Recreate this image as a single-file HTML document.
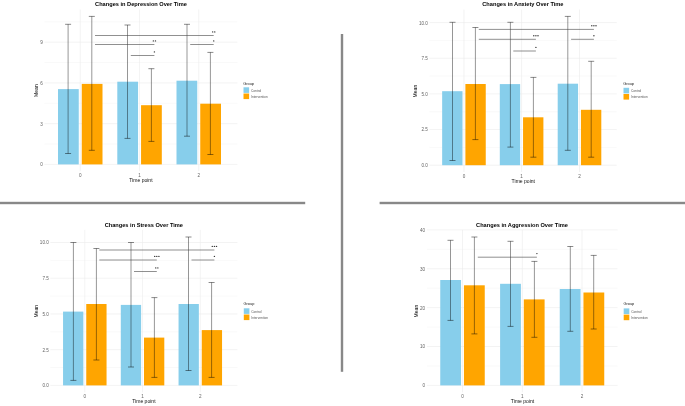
<!DOCTYPE html>
<html><head><meta charset="utf-8"><style>
html,body{margin:0;padding:0;background:#fff;width:685px;height:406px;overflow:hidden}
div.w{will-change:transform;width:685px;height:406px}
svg{display:block;font-family:"Liberation Sans", sans-serif}
</style></head><body><div class="w">
<svg width="685" height="406" viewBox="0 0 685 406">
<rect width="685" height="406" fill="#fff"/>
<line x1="44.5" x2="237.4" y1="144.03" y2="144.03" stroke="#F3F3F3" stroke-width="0.5"/>
<line x1="44.5" x2="237.4" y1="103.29" y2="103.29" stroke="#F3F3F3" stroke-width="0.5"/>
<line x1="44.5" x2="237.4" y1="62.55" y2="62.55" stroke="#F3F3F3" stroke-width="0.5"/>
<line x1="44.5" x2="237.4" y1="21.81" y2="21.81" stroke="#F3F3F3" stroke-width="0.5"/>
<line x1="44.5" x2="237.4" y1="164.4" y2="164.4" stroke="#EBEBEB" stroke-width="0.6"/>
<line x1="44.5" x2="237.4" y1="123.66" y2="123.66" stroke="#EBEBEB" stroke-width="0.6"/>
<line x1="44.5" x2="237.4" y1="82.92" y2="82.92" stroke="#EBEBEB" stroke-width="0.6"/>
<line x1="44.5" x2="237.4" y1="42.18" y2="42.18" stroke="#EBEBEB" stroke-width="0.6"/>
<line x1="80.25" x2="80.25" y1="9.5" y2="171.2" stroke="#EBEBEB" stroke-width="0.6"/>
<line x1="139.55" x2="139.55" y1="9.5" y2="171.2" stroke="#EBEBEB" stroke-width="0.6"/>
<line x1="198.75" x2="198.75" y1="9.5" y2="171.2" stroke="#EBEBEB" stroke-width="0.6"/>
<rect x="58" y="89.1" width="20.75" height="75.3" fill="#87CEEB"/>
<rect x="81.75" y="83.9" width="20.75" height="80.5" fill="#FFA500"/>
<rect x="117.3" y="81.7" width="20.75" height="82.7" fill="#87CEEB"/>
<rect x="141.05" y="105.2" width="20.75" height="59.2" fill="#FFA500"/>
<rect x="176.5" y="80.7" width="20.75" height="83.7" fill="#87CEEB"/>
<rect x="200.25" y="103.7" width="20.75" height="60.7" fill="#FFA500"/>
<path d="M68.1 24.3V153.5" stroke="#000" stroke-opacity="0.69" stroke-width="0.6" fill="none"/>
<path d="M65.1 24.3H71.1M65.1 153.5H71.1" stroke="#000" stroke-opacity="0.77" stroke-width="0.6" fill="none"/>
<path d="M91.8 16.4V150.3" stroke="#000" stroke-opacity="0.69" stroke-width="0.6" fill="none"/>
<path d="M88.8 16.4H94.8M88.8 150.3H94.8" stroke="#000" stroke-opacity="0.77" stroke-width="0.6" fill="none"/>
<path d="M127.5 25V138.4" stroke="#000" stroke-opacity="0.69" stroke-width="0.6" fill="none"/>
<path d="M124.5 25H130.5M124.5 138.4H130.5" stroke="#000" stroke-opacity="0.77" stroke-width="0.6" fill="none"/>
<path d="M151.4 68.7V141.4" stroke="#000" stroke-opacity="0.69" stroke-width="0.6" fill="none"/>
<path d="M148.4 68.7H154.4M148.4 141.4H154.4" stroke="#000" stroke-opacity="0.77" stroke-width="0.6" fill="none"/>
<path d="M187 24.3V136.2" stroke="#000" stroke-opacity="0.69" stroke-width="0.6" fill="none"/>
<path d="M184 24.3H190M184 136.2H190" stroke="#000" stroke-opacity="0.77" stroke-width="0.6" fill="none"/>
<path d="M210.4 52.4V154.5" stroke="#000" stroke-opacity="0.69" stroke-width="0.6" fill="none"/>
<path d="M207.4 52.4H213.4M207.4 154.5H213.4" stroke="#000" stroke-opacity="0.77" stroke-width="0.6" fill="none"/>
<line x1="95" x2="213.7" y1="35.5" y2="35.5" stroke="#444444" stroke-width="0.6"/>
<circle cx="212.65" cy="31.9" r="0.72" fill="#383838"/>
<circle cx="214.75" cy="31.9" r="0.72" fill="#383838"/>
<line x1="95" x2="154.4" y1="44.5" y2="44.5" stroke="#444444" stroke-width="0.6"/>
<circle cx="153.35" cy="40.9" r="0.72" fill="#383838"/>
<circle cx="155.45" cy="40.9" r="0.72" fill="#383838"/>
<line x1="130.8" x2="154.4" y1="55.5" y2="55.5" stroke="#444444" stroke-width="0.6"/>
<circle cx="154.4" cy="51.9" r="0.72" fill="#383838"/>
<line x1="190.2" x2="213.7" y1="44.5" y2="44.5" stroke="#444444" stroke-width="0.6"/>
<circle cx="213.7" cy="40.9" r="0.72" fill="#383838"/>
<rect x="243.5" y="87.3" width="5.6" height="5.6" fill="#87CEEB"/>
<rect x="243.5" y="93.5" width="5.6" height="5.6" fill="#FFA500"/>
<line x1="429.4" x2="616.7" y1="147.38" y2="147.38" stroke="#F3F3F3" stroke-width="0.5"/>
<line x1="429.4" x2="616.7" y1="111.72" y2="111.72" stroke="#F3F3F3" stroke-width="0.5"/>
<line x1="429.4" x2="616.7" y1="76.07" y2="76.07" stroke="#F3F3F3" stroke-width="0.5"/>
<line x1="429.4" x2="616.7" y1="40.42" y2="40.42" stroke="#F3F3F3" stroke-width="0.5"/>
<line x1="429.4" x2="616.7" y1="165.2" y2="165.2" stroke="#EBEBEB" stroke-width="0.6"/>
<line x1="429.4" x2="616.7" y1="129.55" y2="129.55" stroke="#EBEBEB" stroke-width="0.6"/>
<line x1="429.4" x2="616.7" y1="93.9" y2="93.9" stroke="#EBEBEB" stroke-width="0.6"/>
<line x1="429.4" x2="616.7" y1="58.25" y2="58.25" stroke="#EBEBEB" stroke-width="0.6"/>
<line x1="429.4" x2="616.7" y1="22.6" y2="22.6" stroke="#EBEBEB" stroke-width="0.6"/>
<line x1="463.95" x2="463.95" y1="9.5" y2="172" stroke="#EBEBEB" stroke-width="0.6"/>
<line x1="521.6" x2="521.6" y1="9.5" y2="172" stroke="#EBEBEB" stroke-width="0.6"/>
<line x1="579.5" x2="579.5" y1="9.5" y2="172" stroke="#EBEBEB" stroke-width="0.6"/>
<rect x="442.15" y="91.2" width="20.35" height="74" fill="#87CEEB"/>
<rect x="465.4" y="84" width="20.35" height="81.2" fill="#FFA500"/>
<rect x="499.8" y="84.1" width="20.35" height="81.1" fill="#87CEEB"/>
<rect x="523.05" y="117.3" width="20.35" height="47.9" fill="#FFA500"/>
<rect x="557.7" y="83.7" width="20.35" height="81.5" fill="#87CEEB"/>
<rect x="580.95" y="109.8" width="20.35" height="55.4" fill="#FFA500"/>
<path d="M452.5 22.3V160.5" stroke="#000" stroke-opacity="0.69" stroke-width="0.6" fill="none"/>
<path d="M449.5 22.3H455.5M449.5 160.5H455.5" stroke="#000" stroke-opacity="0.77" stroke-width="0.6" fill="none"/>
<path d="M475.4 27.5V139.6" stroke="#000" stroke-opacity="0.69" stroke-width="0.6" fill="none"/>
<path d="M472.4 27.5H478.4M472.4 139.6H478.4" stroke="#000" stroke-opacity="0.77" stroke-width="0.6" fill="none"/>
<path d="M510.4 22.3V147.1" stroke="#000" stroke-opacity="0.69" stroke-width="0.6" fill="none"/>
<path d="M507.4 22.3H513.4M507.4 147.1H513.4" stroke="#000" stroke-opacity="0.77" stroke-width="0.6" fill="none"/>
<path d="M533.4 77.4V157.2" stroke="#000" stroke-opacity="0.69" stroke-width="0.6" fill="none"/>
<path d="M530.4 77.4H536.4M530.4 157.2H536.4" stroke="#000" stroke-opacity="0.77" stroke-width="0.6" fill="none"/>
<path d="M567.8 16.4V150.3" stroke="#000" stroke-opacity="0.69" stroke-width="0.6" fill="none"/>
<path d="M564.8 16.4H570.8M564.8 150.3H570.8" stroke="#000" stroke-opacity="0.77" stroke-width="0.6" fill="none"/>
<path d="M591.2 61.3V157.2" stroke="#000" stroke-opacity="0.69" stroke-width="0.6" fill="none"/>
<path d="M588.2 61.3H594.2M588.2 157.2H594.2" stroke="#000" stroke-opacity="0.77" stroke-width="0.6" fill="none"/>
<line x1="478.8" x2="593.9" y1="29.4" y2="29.4" stroke="#444444" stroke-width="0.6"/>
<circle cx="591.8" cy="25.8" r="0.72" fill="#383838"/>
<circle cx="593.9" cy="25.8" r="0.72" fill="#383838"/>
<circle cx="596" cy="25.8" r="0.72" fill="#383838"/>
<line x1="478.8" x2="535.9" y1="39.3" y2="39.3" stroke="#444444" stroke-width="0.6"/>
<circle cx="533.8" cy="35.7" r="0.72" fill="#383838"/>
<circle cx="535.9" cy="35.7" r="0.72" fill="#383838"/>
<circle cx="538" cy="35.7" r="0.72" fill="#383838"/>
<line x1="513.3" x2="535.9" y1="51" y2="51" stroke="#444444" stroke-width="0.6"/>
<circle cx="535.9" cy="47.4" r="0.72" fill="#383838"/>
<line x1="571.1" x2="593.9" y1="39.3" y2="39.3" stroke="#444444" stroke-width="0.6"/>
<circle cx="593.9" cy="35.7" r="0.72" fill="#383838"/>
<rect x="623.5" y="87.8" width="5.6" height="5.6" fill="#87CEEB"/>
<rect x="623.5" y="94" width="5.6" height="5.6" fill="#FFA500"/>
<line x1="50.3" x2="237.4" y1="367.54" y2="367.54" stroke="#F3F3F3" stroke-width="0.5"/>
<line x1="50.3" x2="237.4" y1="331.81" y2="331.81" stroke="#F3F3F3" stroke-width="0.5"/>
<line x1="50.3" x2="237.4" y1="296.09" y2="296.09" stroke="#F3F3F3" stroke-width="0.5"/>
<line x1="50.3" x2="237.4" y1="260.36" y2="260.36" stroke="#F3F3F3" stroke-width="0.5"/>
<line x1="50.3" x2="237.4" y1="385.4" y2="385.4" stroke="#EBEBEB" stroke-width="0.6"/>
<line x1="50.3" x2="237.4" y1="349.67" y2="349.67" stroke="#EBEBEB" stroke-width="0.6"/>
<line x1="50.3" x2="237.4" y1="313.95" y2="313.95" stroke="#EBEBEB" stroke-width="0.6"/>
<line x1="50.3" x2="237.4" y1="278.22" y2="278.22" stroke="#EBEBEB" stroke-width="0.6"/>
<line x1="50.3" x2="237.4" y1="242.5" y2="242.5" stroke="#EBEBEB" stroke-width="0.6"/>
<line x1="84.8" x2="84.8" y1="229.9" y2="392.4" stroke="#EBEBEB" stroke-width="0.6"/>
<line x1="142.55" x2="142.55" y1="229.9" y2="392.4" stroke="#EBEBEB" stroke-width="0.6"/>
<line x1="200.3" x2="200.3" y1="229.9" y2="392.4" stroke="#EBEBEB" stroke-width="0.6"/>
<rect x="63.05" y="311.6" width="20.3" height="73.8" fill="#87CEEB"/>
<rect x="86.25" y="304" width="20.3" height="81.4" fill="#FFA500"/>
<rect x="120.8" y="304.9" width="20.3" height="80.5" fill="#87CEEB"/>
<rect x="144" y="337.6" width="20.3" height="47.8" fill="#FFA500"/>
<rect x="178.55" y="304" width="20.3" height="81.4" fill="#87CEEB"/>
<rect x="201.75" y="330.1" width="20.3" height="55.3" fill="#FFA500"/>
<path d="M73.4 242.5V380.4" stroke="#000" stroke-opacity="0.69" stroke-width="0.6" fill="none"/>
<path d="M70.4 242.5H76.4M70.4 380.4H76.4" stroke="#000" stroke-opacity="0.77" stroke-width="0.6" fill="none"/>
<path d="M96.4 248.5V360" stroke="#000" stroke-opacity="0.69" stroke-width="0.6" fill="none"/>
<path d="M93.4 248.5H99.4M93.4 360H99.4" stroke="#000" stroke-opacity="0.77" stroke-width="0.6" fill="none"/>
<path d="M131 242.5V367" stroke="#000" stroke-opacity="0.69" stroke-width="0.6" fill="none"/>
<path d="M128 242.5H134M128 367H134" stroke="#000" stroke-opacity="0.77" stroke-width="0.6" fill="none"/>
<path d="M154.4 297.6V377.4" stroke="#000" stroke-opacity="0.69" stroke-width="0.6" fill="none"/>
<path d="M151.4 297.6H157.4M151.4 377.4H157.4" stroke="#000" stroke-opacity="0.77" stroke-width="0.6" fill="none"/>
<path d="M188.5 237V370.5" stroke="#000" stroke-opacity="0.69" stroke-width="0.6" fill="none"/>
<path d="M185.5 237H191.5M185.5 370.5H191.5" stroke="#000" stroke-opacity="0.77" stroke-width="0.6" fill="none"/>
<path d="M211.6 282.5V377.4" stroke="#000" stroke-opacity="0.69" stroke-width="0.6" fill="none"/>
<path d="M208.6 282.5H214.6M208.6 377.4H214.6" stroke="#000" stroke-opacity="0.77" stroke-width="0.6" fill="none"/>
<line x1="99.3" x2="214.4" y1="250" y2="250" stroke="#444444" stroke-width="0.6"/>
<circle cx="212.3" cy="246.4" r="0.72" fill="#383838"/>
<circle cx="214.4" cy="246.4" r="0.72" fill="#383838"/>
<circle cx="216.5" cy="246.4" r="0.72" fill="#383838"/>
<line x1="99.3" x2="156.8" y1="260" y2="260" stroke="#444444" stroke-width="0.6"/>
<circle cx="154.7" cy="256.4" r="0.72" fill="#383838"/>
<circle cx="156.8" cy="256.4" r="0.72" fill="#383838"/>
<circle cx="158.9" cy="256.4" r="0.72" fill="#383838"/>
<line x1="134" x2="156.8" y1="271.5" y2="271.5" stroke="#444444" stroke-width="0.6"/>
<circle cx="155.75" cy="267.9" r="0.72" fill="#383838"/>
<circle cx="157.85" cy="267.9" r="0.72" fill="#383838"/>
<line x1="191.5" x2="214.4" y1="260" y2="260" stroke="#444444" stroke-width="0.6"/>
<circle cx="214.4" cy="256.4" r="0.72" fill="#383838"/>
<rect x="243.8" y="308.3" width="5.6" height="5.6" fill="#87CEEB"/>
<rect x="243.8" y="314.5" width="5.6" height="5.6" fill="#FFA500"/>
<line x1="426.9" x2="617.5" y1="365.96" y2="365.96" stroke="#F3F3F3" stroke-width="0.5"/>
<line x1="426.9" x2="617.5" y1="327.09" y2="327.09" stroke="#F3F3F3" stroke-width="0.5"/>
<line x1="426.9" x2="617.5" y1="288.21" y2="288.21" stroke="#F3F3F3" stroke-width="0.5"/>
<line x1="426.9" x2="617.5" y1="249.34" y2="249.34" stroke="#F3F3F3" stroke-width="0.5"/>
<line x1="426.9" x2="617.5" y1="385.4" y2="385.4" stroke="#EBEBEB" stroke-width="0.6"/>
<line x1="426.9" x2="617.5" y1="346.52" y2="346.52" stroke="#EBEBEB" stroke-width="0.6"/>
<line x1="426.9" x2="617.5" y1="307.65" y2="307.65" stroke="#EBEBEB" stroke-width="0.6"/>
<line x1="426.9" x2="617.5" y1="268.77" y2="268.77" stroke="#EBEBEB" stroke-width="0.6"/>
<line x1="426.9" x2="617.5" y1="229.9" y2="229.9" stroke="#EBEBEB" stroke-width="0.6"/>
<line x1="462.5" x2="462.5" y1="229.9" y2="392.4" stroke="#EBEBEB" stroke-width="0.6"/>
<line x1="522.35" x2="522.35" y1="229.9" y2="392.4" stroke="#EBEBEB" stroke-width="0.6"/>
<line x1="582" x2="582" y1="229.9" y2="392.4" stroke="#EBEBEB" stroke-width="0.6"/>
<rect x="440.25" y="280" width="20.8" height="105.4" fill="#87CEEB"/>
<rect x="463.95" y="285.3" width="20.8" height="100.1" fill="#FFA500"/>
<rect x="500.1" y="283.8" width="20.8" height="101.6" fill="#87CEEB"/>
<rect x="523.8" y="299.4" width="20.8" height="86" fill="#FFA500"/>
<rect x="559.75" y="289" width="20.8" height="96.4" fill="#87CEEB"/>
<rect x="583.45" y="292.5" width="20.8" height="92.9" fill="#FFA500"/>
<path d="M450.5 240.3V320.4" stroke="#000" stroke-opacity="0.69" stroke-width="0.6" fill="none"/>
<path d="M447.5 240.3H453.5M447.5 320.4H453.5" stroke="#000" stroke-opacity="0.77" stroke-width="0.6" fill="none"/>
<path d="M474.4 237V333.9" stroke="#000" stroke-opacity="0.69" stroke-width="0.6" fill="none"/>
<path d="M471.4 237H477.4M471.4 333.9H477.4" stroke="#000" stroke-opacity="0.77" stroke-width="0.6" fill="none"/>
<path d="M510.5 241.3V326.4" stroke="#000" stroke-opacity="0.69" stroke-width="0.6" fill="none"/>
<path d="M507.5 241.3H513.5M507.5 326.4H513.5" stroke="#000" stroke-opacity="0.77" stroke-width="0.6" fill="none"/>
<path d="M534.4 261.4V337.3" stroke="#000" stroke-opacity="0.69" stroke-width="0.6" fill="none"/>
<path d="M531.4 261.4H537.4M531.4 337.3H537.4" stroke="#000" stroke-opacity="0.77" stroke-width="0.6" fill="none"/>
<path d="M570.3 246.5V331.3" stroke="#000" stroke-opacity="0.69" stroke-width="0.6" fill="none"/>
<path d="M567.3 246.5H573.3M567.3 331.3H573.3" stroke="#000" stroke-opacity="0.77" stroke-width="0.6" fill="none"/>
<path d="M593.7 255.4V329" stroke="#000" stroke-opacity="0.69" stroke-width="0.6" fill="none"/>
<path d="M590.7 255.4H596.7M590.7 329H596.7" stroke="#000" stroke-opacity="0.77" stroke-width="0.6" fill="none"/>
<line x1="477.8" x2="536.9" y1="257.2" y2="257.2" stroke="#444444" stroke-width="0.6"/>
<circle cx="536.9" cy="253.6" r="0.72" fill="#383838"/>
<rect x="623.7" y="308.4" width="5.6" height="5.6" fill="#87CEEB"/>
<rect x="623.7" y="314.6" width="5.6" height="5.6" fill="#FFA500"/>
<rect x="0" y="201.8" width="305.2" height="2.4" fill="#888"/>
<rect x="379.6" y="201.8" width="305.4" height="2.4" fill="#888"/>
<rect x="340.8" y="34" width="2.4" height="337.8" fill="#888"/>
<g>
<text x="42.8" y="166.3" font-size="4.6" text-anchor="end" fill="#636363">0</text>
<text x="42.8" y="125.56" font-size="4.6" text-anchor="end" fill="#636363">3</text>
<text x="42.8" y="84.82" font-size="4.6" text-anchor="end" fill="#636363">6</text>
<text x="42.8" y="44.08" font-size="4.6" text-anchor="end" fill="#636363">9</text>
<text x="80.25" y="177.1" font-size="4.6" text-anchor="middle" fill="#636363">0</text>
<text x="139.55" y="177.1" font-size="4.6" text-anchor="middle" fill="#636363">1</text>
<text x="198.75" y="177.1" font-size="4.6" text-anchor="middle" fill="#636363">2</text>
<text x="140.9" y="182.47" font-size="5.05" text-anchor="middle" fill="#111">Time point</text>
<text transform="translate(38.17 90.6) rotate(-90)" font-size="5.05" text-anchor="middle" fill="#000">Mean</text>
<text x="95.1" y="6.03" font-size="5.65" font-weight="bold" fill="#000">Changes in Depression Over Time</text>
<text x="243.2" y="84.7" font-size="3.9" fill="#1a1a1a">Group</text>
<text x="251" y="91.9" font-size="3.2" fill="#555">Control</text>
<text x="251" y="97.9" font-size="3.2" fill="#555">Intervention</text>
<text x="427.9" y="167.1" font-size="4.6" text-anchor="end" fill="#636363">0.0</text>
<text x="427.9" y="131.45" font-size="4.6" text-anchor="end" fill="#636363">2.5</text>
<text x="427.9" y="95.8" font-size="4.6" text-anchor="end" fill="#636363">5.0</text>
<text x="427.9" y="60.15" font-size="4.6" text-anchor="end" fill="#636363">7.5</text>
<text x="427.9" y="24.5" font-size="4.6" text-anchor="end" fill="#636363">10.0</text>
<text x="463.95" y="178" font-size="4.6" text-anchor="middle" fill="#636363">0</text>
<text x="521.6" y="178" font-size="4.6" text-anchor="middle" fill="#636363">1</text>
<text x="579.5" y="178" font-size="4.6" text-anchor="middle" fill="#636363">2</text>
<text x="523.3" y="183.27" font-size="5.05" text-anchor="middle" fill="#111">Time point</text>
<text transform="translate(416.77 91.1) rotate(-90)" font-size="5.05" text-anchor="middle" fill="#000">Mean</text>
<text x="482.3" y="6.03" font-size="5.65" font-weight="bold" fill="#000">Changes in Anxiety Over Time</text>
<text x="623.2" y="84.9" font-size="3.9" fill="#1a1a1a">Group</text>
<text x="631" y="92.4" font-size="3.2" fill="#555">Control</text>
<text x="631" y="98.4" font-size="3.2" fill="#555">Intervention</text>
<text x="48.8" y="387.3" font-size="4.6" text-anchor="end" fill="#636363">0.0</text>
<text x="48.8" y="351.57" font-size="4.6" text-anchor="end" fill="#636363">2.5</text>
<text x="48.8" y="315.85" font-size="4.6" text-anchor="end" fill="#636363">5.0</text>
<text x="48.8" y="280.12" font-size="4.6" text-anchor="end" fill="#636363">7.5</text>
<text x="48.8" y="244.4" font-size="4.6" text-anchor="end" fill="#636363">10.0</text>
<text x="84.8" y="397.8" font-size="4.6" text-anchor="middle" fill="#636363">0</text>
<text x="142.55" y="397.8" font-size="4.6" text-anchor="middle" fill="#636363">1</text>
<text x="200.3" y="397.8" font-size="4.6" text-anchor="middle" fill="#636363">2</text>
<text x="143.85" y="402.77" font-size="5.05" text-anchor="middle" fill="#111">Time point</text>
<text transform="translate(38.17 311.2) rotate(-90)" font-size="5.05" text-anchor="middle" fill="#000">Mean</text>
<text x="104.7" y="226.63" font-size="5.65" font-weight="bold" fill="#000">Changes in Stress Over Time</text>
<text x="243.5" y="305.3" font-size="3.9" fill="#1a1a1a">Group</text>
<text x="251.3" y="312.9" font-size="3.2" fill="#555">Control</text>
<text x="251.3" y="318.9" font-size="3.2" fill="#555">Intervention</text>
<text x="425.1" y="387.3" font-size="4.6" text-anchor="end" fill="#636363">0</text>
<text x="425.1" y="348.42" font-size="4.6" text-anchor="end" fill="#636363">10</text>
<text x="425.1" y="309.55" font-size="4.6" text-anchor="end" fill="#636363">20</text>
<text x="425.1" y="270.67" font-size="4.6" text-anchor="end" fill="#636363">30</text>
<text x="425.1" y="231.8" font-size="4.6" text-anchor="end" fill="#636363">40</text>
<text x="462.5" y="398" font-size="4.6" text-anchor="middle" fill="#636363">0</text>
<text x="522.35" y="398" font-size="4.6" text-anchor="middle" fill="#636363">1</text>
<text x="582" y="398" font-size="4.6" text-anchor="middle" fill="#636363">2</text>
<text x="522.55" y="402.97" font-size="5.05" text-anchor="middle" fill="#111">Time point</text>
<text transform="translate(418.47 311.1) rotate(-90)" font-size="5.05" text-anchor="middle" fill="#000">Mean</text>
<text x="476.1" y="226.63" font-size="5.65" font-weight="bold" fill="#000">Changes in Aggression Over Time</text>
<text x="623.4" y="305.3" font-size="3.9" fill="#1a1a1a">Group</text>
<text x="631.2" y="313" font-size="3.2" fill="#555">Control</text>
<text x="631.2" y="319" font-size="3.2" fill="#555">Intervention</text>
</g>
</svg></div>
</body></html>
